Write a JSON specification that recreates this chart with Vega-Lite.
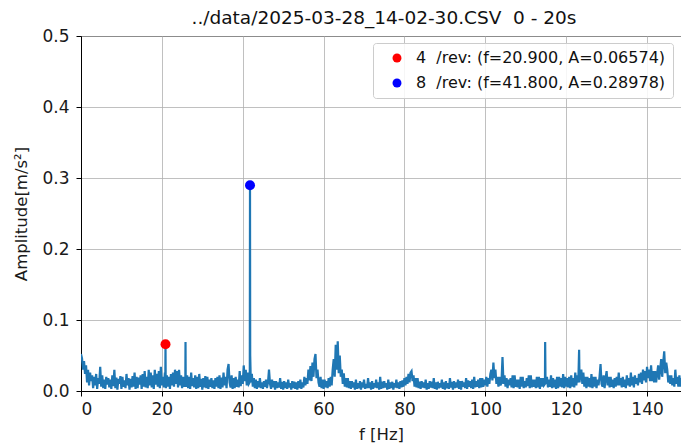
{
  "$schema": "https://vega.github.io/schema/vega-lite/v6.json",
  "width": 600,
  "height": 355,
  "autosize": {"type": "none"},
  "padding": {"left": 81, "top": 36, "right": 0, "bottom": 56},
  "background": "white",
  "title": {"text": "../data/2025-03-28_14-02-30.CSV\u00a0 0 - 20s", "font": "DejaVu Sans", "fontSize": 18.5, "fontWeight": "normal", "color": "#111111", "offset": 0, "anchor": "middle", "dx": 3},
  "config": {
    "view": {"stroke": "black", "strokeWidth": 1},
    "font": "DejaVu Sans",
    "axis": {"labelFont": "DejaVu Sans", "titleFont": "DejaVu Sans", "labelFontSize": 17, "titleFontSize": 16.5, "titleFontWeight": "normal", "labelColor": "#1a1a1a", "titleColor": "#1a1a1a", "gridColor": "#b0b0b0", "gridWidth": 0.8, "tickColor": "black", "tickSize": 5, "domainColor": "black"}
  },
  "datasets": {
    "spec": [
{"f":0,"a":0.052},{"f":0.25,"a":0.046},{"f":0.5,"a":0.03},{"f":0.75,"a":0.042},
{"f":1,"a":0.024},{"f":1.25,"a":0.036},{"f":1.5,"a":0.012},{"f":1.75,"a":0.03},
{"f":2,"a":0.008},{"f":2.25,"a":0.026},{"f":2.5,"a":0.014},{"f":2.75,"a":0.022},
{"f":3,"a":0.004},{"f":3.25,"a":0.02},{"f":3.5,"a":0.008},{"f":3.75,"a":0.024},
{"f":4,"a":0.003},{"f":4.25,"a":0.018},{"f":4.5,"a":0.01},{"f":4.75,"a":0.034},
{"f":5,"a":0.006},{"f":5.25,"a":0.022},{"f":5.5,"a":0.004},{"f":5.75,"a":0.016},
{"f":6,"a":0.003},{"f":6.25,"a":0.02},{"f":6.5,"a":0.009},{"f":6.75,"a":0.018},
{"f":7,"a":0.005},{"f":7.25,"a":0.016},{"f":7.5,"a":0.003},{"f":7.75,"a":0.022},
{"f":8,"a":0.007},{"f":8.25,"a":0.03},{"f":8.5,"a":0.004},{"f":8.75,"a":0.019},
{"f":9,"a":0.002},{"f":9.25,"a":0.017},{"f":9.5,"a":0.01},{"f":9.75,"a":0.021},
{"f":10,"a":0.003},{"f":10.25,"a":0.02},{"f":10.5,"a":0.006},{"f":10.75,"a":0.015},
{"f":11,"a":0.004},{"f":11.25,"a":0.024},{"f":11.5,"a":0.008},{"f":11.75,"a":0.018},
{"f":12,"a":0.002},{"f":12.25,"a":0.017},{"f":12.5,"a":0.005},{"f":12.75,"a":0.021},
{"f":13,"a":0.006},{"f":13.25,"a":0.026},{"f":13.5,"a":0.003},{"f":13.75,"a":0.02},
{"f":14,"a":0.004},{"f":14.25,"a":0.019},{"f":14.5,"a":0.009},{"f":14.75,"a":0.022},
{"f":15,"a":0.003},{"f":15.25,"a":0.024},{"f":15.5,"a":0.006},{"f":15.75,"a":0.028},
{"f":16,"a":0.005},{"f":16.25,"a":0.02},{"f":16.5,"a":0.004},{"f":16.75,"a":0.03},
{"f":17,"a":0.008},{"f":17.25,"a":0.026},{"f":17.5,"a":0.005},{"f":17.75,"a":0.022},
{"f":18,"a":0.003},{"f":18.25,"a":0.03},{"f":18.5,"a":0.009},{"f":18.75,"a":0.024},
{"f":19,"a":0.006},{"f":19.25,"a":0.028},{"f":19.5,"a":0.004},{"f":19.75,"a":0.034},
{"f":20,"a":0.008},{"f":20.25,"a":0.02},{"f":20.5,"a":0.005},{"f":20.75,"a":0.026},{"f":20.85,"a":0.012},{"f":20.9,"a":0.0657},{"f":20.95,"a":0.01},
{"f":21,"a":0.004},{"f":21.25,"a":0.022},{"f":21.5,"a":0.006},{"f":21.75,"a":0.02},
{"f":22,"a":0.003},{"f":22.25,"a":0.024},{"f":22.5,"a":0.008},{"f":22.75,"a":0.026},
{"f":23,"a":0.006},{"f":23.25,"a":0.03},{"f":23.5,"a":0.01},{"f":23.75,"a":0.028},
{"f":24,"a":0.005},{"f":24.25,"a":0.03},{"f":24.5,"a":0.008},{"f":24.75,"a":0.022},
{"f":25,"a":0.004},{"f":25.25,"a":0.02},{"f":25.5,"a":0.006},{"f":25.75,"a":0.012},{"f":25.8,"a":0.01},{"f":25.85,"a":0.069},{"f":25.9,"a":0.01},
{"f":26,"a":0.006},{"f":26.25,"a":0.022},{"f":26.5,"a":0.004},{"f":26.75,"a":0.02},
{"f":27,"a":0.003},{"f":27.25,"a":0.026},{"f":27.5,"a":0.007},{"f":27.75,"a":0.018},
{"f":28,"a":0.005},{"f":28.25,"a":0.022},{"f":28.5,"a":0.003},{"f":28.75,"a":0.02},
{"f":29,"a":0.004},{"f":29.25,"a":0.024},{"f":29.5,"a":0.006},{"f":29.75,"a":0.017},
{"f":30,"a":0.002},{"f":30.25,"a":0.018},{"f":30.5,"a":0.005},{"f":30.75,"a":0.021},
{"f":31,"a":0.004},{"f":31.25,"a":0.02},{"f":31.5,"a":0.003},{"f":31.75,"a":0.016},
{"f":32,"a":0.006},{"f":32.25,"a":0.018},{"f":32.5,"a":0.004},{"f":32.75,"a":0.015},
{"f":33,"a":0.003},{"f":33.25,"a":0.018},{"f":33.5,"a":0.006},{"f":33.75,"a":0.02},
{"f":34,"a":0.004},{"f":34.25,"a":0.022},{"f":34.5,"a":0.003},{"f":34.75,"a":0.019},
{"f":35,"a":0.005},{"f":35.25,"a":0.026},{"f":35.5,"a":0.008},{"f":35.75,"a":0.02},
{"f":36,"a":0.004},{"f":36.25,"a":0.03},{"f":36.5,"a":0.038},{"f":36.75,"a":0.012},
{"f":37,"a":0.005},{"f":37.25,"a":0.022},{"f":37.5,"a":0.003},{"f":37.75,"a":0.018},
{"f":38,"a":0.004},{"f":38.25,"a":0.02},{"f":38.5,"a":0.006},{"f":38.75,"a":0.016},
{"f":39,"a":0.005},{"f":39.25,"a":0.028},{"f":39.5,"a":0.007},{"f":39.75,"a":0.022},
{"f":40,"a":0.01},{"f":40.25,"a":0.036},{"f":40.5,"a":0.014},{"f":40.75,"a":0.03},
{"f":41,"a":0.008},{"f":41.25,"a":0.026},{"f":41.5,"a":0.01},{"f":41.7,"a":0.012},{"f":41.75,"a":0.03},{"f":41.8,"a":0.2898},{"f":41.85,"a":0.05},
{"f":42,"a":0.012},{"f":42.25,"a":0.024},{"f":42.5,"a":0.006},{"f":42.75,"a":0.018},
{"f":43,"a":0.004},{"f":43.25,"a":0.016},{"f":43.5,"a":0.003},{"f":43.75,"a":0.014},
{"f":44,"a":0.005},{"f":44.25,"a":0.018},{"f":44.5,"a":0.004},{"f":44.75,"a":0.012},
{"f":45,"a":0.003},{"f":45.25,"a":0.014},{"f":45.5,"a":0.006},{"f":45.75,"a":0.016},
{"f":46,"a":0.004},{"f":46.25,"a":0.012},{"f":46.5,"a":0.03},{"f":46.75,"a":0.01},
{"f":47,"a":0.003},{"f":47.25,"a":0.016},{"f":47.5,"a":0.005},{"f":47.75,"a":0.014},
{"f":48,"a":0.002},{"f":48.25,"a":0.014},{"f":48.5,"a":0.004},{"f":48.75,"a":0.012},
{"f":49,"a":0.005},{"f":49.25,"a":0.018},{"f":49.5,"a":0.003},{"f":49.75,"a":0.013},
{"f":50,"a":0.002},{"f":50.25,"a":0.014},{"f":50.5,"a":0.004},{"f":50.75,"a":0.012},
{"f":51,"a":0.003},{"f":51.25,"a":0.016},{"f":51.5,"a":0.005},{"f":51.75,"a":0.011},
{"f":52,"a":0.002},{"f":52.25,"a":0.014},{"f":52.5,"a":0.004},{"f":52.75,"a":0.013},
{"f":53,"a":0.003},{"f":53.25,"a":0.012},{"f":53.5,"a":0.002},{"f":53.75,"a":0.014},
{"f":54,"a":0.004},{"f":54.25,"a":0.016},{"f":54.5,"a":0.003},{"f":54.75,"a":0.012},
{"f":55,"a":0.005},{"f":55.25,"a":0.02},{"f":55.5,"a":0.008},{"f":55.75,"a":0.018},
{"f":56,"a":0.01},{"f":56.25,"a":0.03},{"f":56.5,"a":0.015},{"f":56.75,"a":0.035},
{"f":57,"a":0.014},{"f":57.25,"a":0.04},{"f":57.5,"a":0.02},{"f":57.75,"a":0.045},
{"f":58,"a":0.052},{"f":58.25,"a":0.018},{"f":58.5,"a":0.03},{"f":58.75,"a":0.012},
{"f":59,"a":0.006},{"f":59.25,"a":0.02},{"f":59.5,"a":0.004},{"f":59.75,"a":0.016},
{"f":60,"a":0.003},{"f":60.25,"a":0.016},{"f":60.5,"a":0.005},{"f":60.75,"a":0.014},
{"f":61,"a":0.004},{"f":61.25,"a":0.018},{"f":61.5,"a":0.006},{"f":61.75,"a":0.02},
{"f":62,"a":0.008},{"f":62.25,"a":0.03},{"f":62.5,"a":0.045},{"f":62.75,"a":0.02},
{"f":63,"a":0.065},{"f":63.25,"a":0.03},{"f":63.5,"a":0.07},{"f":63.75,"a":0.025},
{"f":64,"a":0.05},{"f":64.25,"a":0.02},{"f":64.5,"a":0.03},{"f":64.75,"a":0.01},
{"f":65,"a":0.025},{"f":65.25,"a":0.006},{"f":65.5,"a":0.018},{"f":65.75,"a":0.005},
{"f":66,"a":0.018},{"f":66.25,"a":0.004},{"f":66.5,"a":0.014},{"f":66.75,"a":0.003},
{"f":67,"a":0.014},{"f":67.25,"a":0.005},{"f":67.5,"a":0.012},{"f":67.75,"a":0.002},
{"f":68,"a":0.016},{"f":68.25,"a":0.003},{"f":68.5,"a":0.011},{"f":68.75,"a":0.004},
{"f":69,"a":0.014},{"f":69.25,"a":0.002},{"f":69.5,"a":0.012},{"f":69.75,"a":0.005},
{"f":70,"a":0.016},{"f":70.25,"a":0.003},{"f":70.5,"a":0.01},{"f":70.75,"a":0.004},
{"f":71,"a":0.018},{"f":71.25,"a":0.004},{"f":71.5,"a":0.012},{"f":71.75,"a":0.002},
{"f":72,"a":0.014},{"f":72.25,"a":0.003},{"f":72.5,"a":0.011},{"f":72.75,"a":0.005},
{"f":73,"a":0.016},{"f":73.25,"a":0.004},{"f":73.5,"a":0.012},{"f":73.75,"a":0.002},
{"f":74,"a":0.02},{"f":74.25,"a":0.003},{"f":74.5,"a":0.013},{"f":74.75,"a":0.004},
{"f":75,"a":0.014},{"f":75.25,"a":0.005},{"f":75.5,"a":0.011},{"f":75.75,"a":0.002},
{"f":76,"a":0.016},{"f":76.25,"a":0.003},{"f":76.5,"a":0.012},{"f":76.75,"a":0.004},
{"f":77,"a":0.013},{"f":77.25,"a":0.002},{"f":77.5,"a":0.011},{"f":77.75,"a":0.005},
{"f":78,"a":0.016},{"f":78.25,"a":0.004},{"f":78.5,"a":0.012},{"f":78.75,"a":0.003},
{"f":79,"a":0.014},{"f":79.25,"a":0.005},{"f":79.5,"a":0.015},{"f":79.75,"a":0.006},
{"f":80,"a":0.018},{"f":80.25,"a":0.008},{"f":80.5,"a":0.02},{"f":80.75,"a":0.01},
{"f":81,"a":0.024},{"f":81.25,"a":0.012},{"f":81.5,"a":0.026},{"f":81.75,"a":0.028},
{"f":82,"a":0.014},{"f":82.25,"a":0.022},{"f":82.5,"a":0.006},{"f":82.75,"a":0.018},
{"f":83,"a":0.005},{"f":83.25,"a":0.018},{"f":83.5,"a":0.004},{"f":83.75,"a":0.013},
{"f":84,"a":0.003},{"f":84.25,"a":0.014},{"f":84.5,"a":0.005},{"f":84.75,"a":0.012},
{"f":85,"a":0.004},{"f":85.25,"a":0.016},{"f":85.5,"a":0.002},{"f":85.75,"a":0.011},
{"f":86,"a":0.003},{"f":86.25,"a":0.014},{"f":86.5,"a":0.005},{"f":86.75,"a":0.013},
{"f":87,"a":0.004},{"f":87.25,"a":0.018},{"f":87.5,"a":0.003},{"f":87.75,"a":0.012},
{"f":88,"a":0.002},{"f":88.25,"a":0.013},{"f":88.5,"a":0.004},{"f":88.75,"a":0.011},
{"f":89,"a":0.005},{"f":89.25,"a":0.016},{"f":89.5,"a":0.003},{"f":89.75,"a":0.012},
{"f":90,"a":0.002},{"f":90.25,"a":0.014},{"f":90.5,"a":0.004},{"f":90.75,"a":0.011},
{"f":91,"a":0.003},{"f":91.25,"a":0.018},{"f":91.5,"a":0.005},{"f":91.75,"a":0.013},
{"f":92,"a":0.002},{"f":92.25,"a":0.014},{"f":92.5,"a":0.004},{"f":92.75,"a":0.012},
{"f":93,"a":0.005},{"f":93.25,"a":0.016},{"f":93.5,"a":0.003},{"f":93.75,"a":0.014},
{"f":94,"a":0.002},{"f":94.25,"a":0.014},{"f":94.5,"a":0.006},{"f":94.75,"a":0.012},
{"f":95,"a":0.004},{"f":95.25,"a":0.018},{"f":95.5,"a":0.003},{"f":95.75,"a":0.015},
{"f":96,"a":0.006},{"f":96.25,"a":0.014},{"f":96.5,"a":0.004},{"f":96.75,"a":0.016},
{"f":97,"a":0.003},{"f":97.25,"a":0.02},{"f":97.5,"a":0.005},{"f":97.75,"a":0.014},
{"f":98,"a":0.006},{"f":98.25,"a":0.016},{"f":98.5,"a":0.004},{"f":98.75,"a":0.018},
{"f":99,"a":0.005},{"f":99.25,"a":0.018},{"f":99.5,"a":0.006},{"f":99.75,"a":0.016},
{"f":100,"a":0.008},{"f":100.25,"a":0.02},{"f":100.5,"a":0.006},{"f":100.75,"a":0.018},
{"f":101,"a":0.01},{"f":101.25,"a":0.024},{"f":101.5,"a":0.03},{"f":101.75,"a":0.015},
{"f":102,"a":0.04},{"f":102.25,"a":0.018},{"f":102.5,"a":0.03},{"f":102.75,"a":0.01},
{"f":103,"a":0.02},{"f":103.25,"a":0.006},{"f":103.5,"a":0.02},{"f":103.75,"a":0.008},
{"f":104,"a":0.012},{"f":104.25,"a":0.048},{"f":104.5,"a":0.01},{"f":104.75,"a":0.022},
{"f":105,"a":0.006},{"f":105.25,"a":0.018},{"f":105.5,"a":0.004},{"f":105.75,"a":0.016},
{"f":106,"a":0.008},{"f":106.25,"a":0.018},{"f":106.5,"a":0.005},{"f":106.75,"a":0.022},
{"f":107,"a":0.004},{"f":107.25,"a":0.022},{"f":107.5,"a":0.006},{"f":107.75,"a":0.016},
{"f":108,"a":0.005},{"f":108.25,"a":0.016},{"f":108.5,"a":0.003},{"f":108.75,"a":0.02},
{"f":109,"a":0.006},{"f":109.25,"a":0.02},{"f":109.5,"a":0.004},{"f":109.75,"a":0.014},
{"f":110,"a":0.005},{"f":110.25,"a":0.018},{"f":110.5,"a":0.007},{"f":110.75,"a":0.022},
{"f":111,"a":0.004},{"f":111.25,"a":0.022},{"f":111.5,"a":0.005},{"f":111.75,"a":0.016},
{"f":112,"a":0.006},{"f":112.25,"a":0.016},{"f":112.5,"a":0.004},{"f":112.75,"a":0.02},
{"f":113,"a":0.005},{"f":113.25,"a":0.02},{"f":113.5,"a":0.003},{"f":113.75,"a":0.018},
{"f":114,"a":0.006},{"f":114.25,"a":0.018},{"f":114.5,"a":0.008},{"f":114.75,"a":0.01},{"f":114.8,"a":0.069},{"f":114.9,"a":0.01},
{"f":115,"a":0.012},{"f":115.25,"a":0.02},{"f":115.5,"a":0.005},{"f":115.75,"a":0.016},
{"f":116,"a":0.006},{"f":116.25,"a":0.022},{"f":116.5,"a":0.004},{"f":116.75,"a":0.018},
{"f":117,"a":0.005},{"f":117.25,"a":0.016},{"f":117.5,"a":0.003},{"f":117.75,"a":0.02},
{"f":118,"a":0.004},{"f":118.25,"a":0.02},{"f":118.5,"a":0.006},{"f":118.75,"a":0.018},
{"f":119,"a":0.005},{"f":119.25,"a":0.024},{"f":119.5,"a":0.004},{"f":119.75,"a":0.02},
{"f":120,"a":0.006},{"f":120.25,"a":0.018},{"f":120.5,"a":0.005},{"f":120.75,"a":0.02},
{"f":121,"a":0.004},{"f":121.25,"a":0.022},{"f":121.5,"a":0.006},{"f":121.75,"a":0.018},
{"f":122,"a":0.005},{"f":122.25,"a":0.026},{"f":122.5,"a":0.008},{"f":122.75,"a":0.022},
{"f":123,"a":0.012},{"f":123.2,"a":0.058},{"f":123.3,"a":0.012},{"f":123.5,"a":0.024},{"f":123.75,"a":0.03},
{"f":124,"a":0.01},{"f":124.25,"a":0.026},{"f":124.5,"a":0.006},{"f":124.75,"a":0.02},
{"f":125,"a":0.004},{"f":125.25,"a":0.02},{"f":125.5,"a":0.006},{"f":125.75,"a":0.018},
{"f":126,"a":0.005},{"f":126.25,"a":0.024},{"f":126.5,"a":0.004},{"f":126.75,"a":0.02},
{"f":127,"a":0.006},{"f":127.25,"a":0.02},{"f":127.5,"a":0.004},{"f":127.75,"a":0.016},
{"f":128,"a":0.008},{"f":128.25,"a":0.02},{"f":128.5,"a":0.038},{"f":128.75,"a":0.01},
{"f":129,"a":0.006},{"f":129.25,"a":0.022},{"f":129.5,"a":0.004},{"f":129.75,"a":0.018},
{"f":130,"a":0.028},{"f":130.25,"a":0.008},{"f":130.5,"a":0.02},{"f":130.75,"a":0.005},
{"f":131,"a":0.02},{"f":131.25,"a":0.006},{"f":131.5,"a":0.016},{"f":131.75,"a":0.004},
{"f":132,"a":0.018},{"f":132.25,"a":0.006},{"f":132.5,"a":0.02},{"f":132.75,"a":0.008},
{"f":133,"a":0.026},{"f":133.25,"a":0.008},{"f":133.5,"a":0.018},{"f":133.75,"a":0.005},
{"f":134,"a":0.02},{"f":134.25,"a":0.006},{"f":134.5,"a":0.016},{"f":134.75,"a":0.004},
{"f":135,"a":0.022},{"f":135.25,"a":0.008},{"f":135.5,"a":0.018},{"f":135.75,"a":0.006},
{"f":136,"a":0.026},{"f":136.25,"a":0.008},{"f":136.5,"a":0.02},{"f":136.75,"a":0.005},
{"f":137,"a":0.022},{"f":137.25,"a":0.01},{"f":137.5,"a":0.018},{"f":137.75,"a":0.008},
{"f":138,"a":0.024},{"f":138.25,"a":0.012},{"f":138.5,"a":0.026},{"f":138.75,"a":0.01},
{"f":139,"a":0.03},{"f":139.25,"a":0.015},{"f":139.5,"a":0.028},{"f":139.75,"a":0.012},
{"f":140,"a":0.034},{"f":140.25,"a":0.018},{"f":140.5,"a":0.03},{"f":140.75,"a":0.014},
{"f":141,"a":0.036},{"f":141.25,"a":0.014},{"f":141.5,"a":0.028},{"f":141.75,"a":0.012},
{"f":142,"a":0.028},{"f":142.25,"a":0.012},{"f":142.5,"a":0.024},{"f":142.75,"a":0.036},
{"f":143,"a":0.016},{"f":143.25,"a":0.03},{"f":143.5,"a":0.045},{"f":143.75,"a":0.02},
{"f":144,"a":0.04},{"f":144.25,"a":0.056},{"f":144.5,"a":0.025},{"f":144.75,"a":0.04},
{"f":145,"a":0.03},{"f":145.25,"a":0.012},{"f":145.5,"a":0.022},{"f":145.75,"a":0.01},
{"f":146,"a":0.022},{"f":146.25,"a":0.008},{"f":146.5,"a":0.018},{"f":146.75,"a":0.006},
{"f":147,"a":0.03},{"f":147.25,"a":0.01},{"f":147.5,"a":0.02},{"f":147.75,"a":0.006},
{"f":148,"a":0.022},{"f":148.25,"a":0.006},{"f":148.5,"a":0.018},{"f":148.75,"a":0.008},
{"f":149,"a":0.02}
    ],
    "peaks": [
      {"f": 20.9, "a": 0.06574, "label": "4\u00a0 /rev: (f=20.900, A=0.06574)"},
      {"f": 41.8, "a": 0.28978, "label": "8\u00a0 /rev: (f=41.800, A=0.28978)"}
    ]
  },
  "layer": [
    {
      "data": {"name": "spec"},
      "mark": {"type": "line", "color": "#1f77b4", "strokeWidth": 2.2, "clip": true},
      "encoding": {
        "x": {"field": "f", "type": "quantitative", "scale": {"domain": [0, 148.4], "nice": false}, "axis": {"values": [0, 20, 40, 60, 80, 100, 120, 140], "title": "f [Hz]", "grid": true, "labelPadding": 5, "titlePadding": 9}},
        "y": {"field": "a", "type": "quantitative", "scale": {"domain": [0, 0.5], "nice": false}, "axis": {"values": [0, 0.1, 0.2, 0.3, 0.4, 0.5], "format": ".1f", "title": "Amplitude[m/s²]", "grid": true, "labelPadding": 7, "titlePadding": 12}}
      }
    },
    {
      "data": {"name": "peaks"},
      "mark": {"type": "point", "filled": true, "opacity": 1, "size": 100, "shape": "circle"},
      "encoding": {
        "x": {"field": "f", "type": "quantitative"},
        "y": {"field": "a", "type": "quantitative"},
        "color": {"field": "label", "type": "nominal", "scale": {"range": ["#ff0000", "#0000ff"]},
          "legend": {"title": null, "orient": "none", "legendX": 292, "legendY": 7, "padding": 7, "fillColor": "rgba(255,255,255,0.85)", "strokeColor": "#cccccc", "cornerRadius": 3, "labelFont": "DejaVu Sans", "labelFontSize": 16, "labelColor": "#111111", "symbolSize": 80, "symbolType": "circle", "symbolOffset": 9, "rowPadding": 9, "labelOffset": 11, "labelLimit": 400}}
      }
    }
  ]
}
